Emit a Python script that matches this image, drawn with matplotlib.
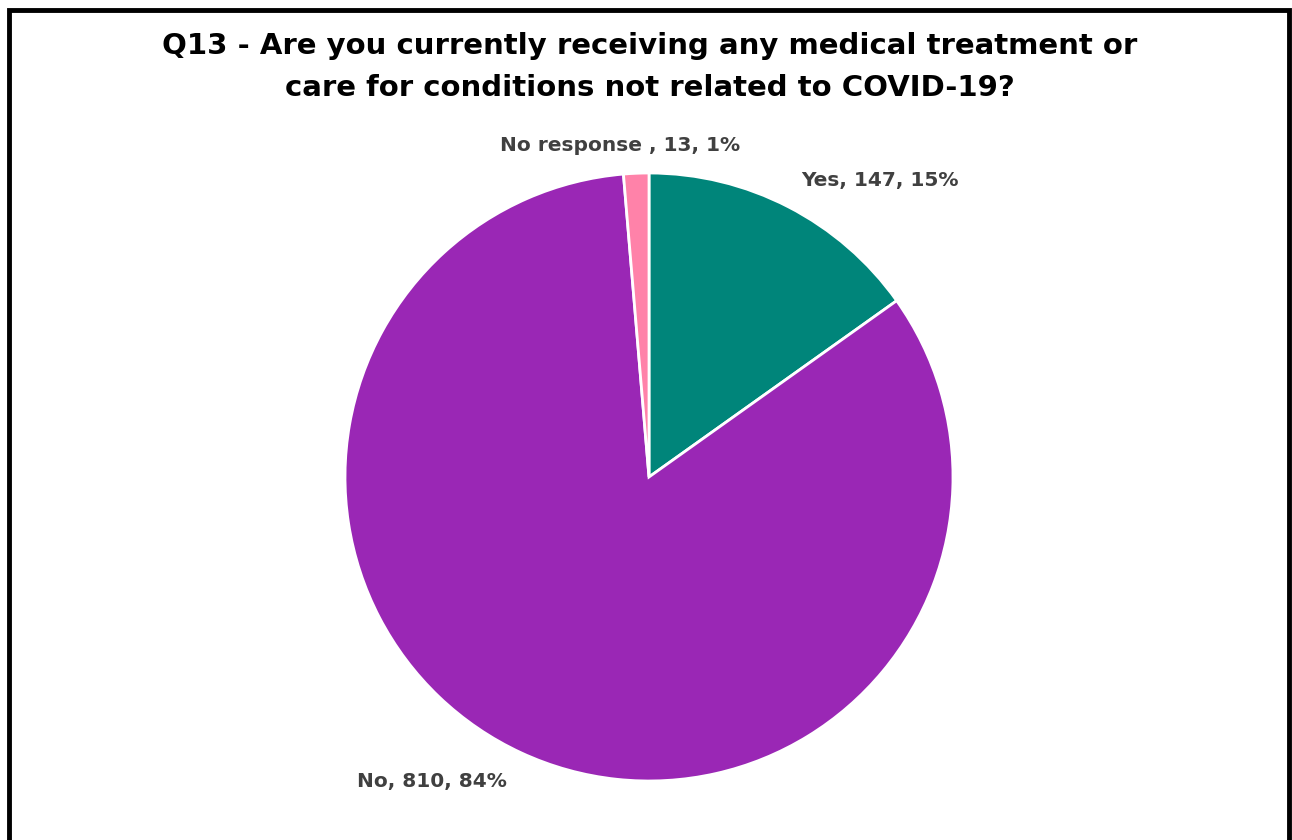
import matplotlib.pyplot as plt
from matplotlib.patches import Rectangle

# データ
labels = ['Yes', 'No', 'No response ']
counts = [147, 810, 13]
percents = [15, 84, 1]
colors = ['#00857A', '#9A27B5', '#FF82A9']

title = 'Q13 - Are you currently receiving any medical treatment or\ncare for conditions not related to COVID-19?'

W, H = 1292, 840
fig = plt.figure(figsize=(W / 100, H / 100), dpi=100)

# 円グラフの位置 (ピクセル)
cx, cy, r = 649, 477, 304
ax = fig.add_axes([(cx - r) / W, (H - cy - r) / H, 2 * r / W, 2 * r / H])
ax.pie(counts, colors=colors, startangle=90, counterclock=False, radius=1,
       wedgeprops=dict(edgecolor='white', linewidth=2))
ax.set_xlim(-1, 1)
ax.set_ylim(-1, 1)
ax.set_aspect('equal')
ax.axis('off')

# ラベル位置 (データ座標)
label_pos = [(0.76, 0.974), (-0.714, -1.0), (-0.095, 1.092)]
for lab, c, p, (x, y) in zip(labels, counts, percents, label_pos):
    ax.text(x, y, f'{lab}, {c}, {p}%', ha='center', va='center',
            fontsize=14.5, fontweight='bold', color='#404040')

# タイトル
fig.text(650 / W, 1 - 67 / H, title, ha='center', va='center',
         fontsize=21, fontweight='bold', color='black', linespacing=1.65)

# 枠線
fig.patches.append(Rectangle((9 / W, -0.05), (1289 - 9) / W, 1.05 - 10 / H,
                             transform=fig.transFigure, fill=False,
                             edgecolor='black', linewidth=3.5))

fig.savefig('out.png', dpi=100)
